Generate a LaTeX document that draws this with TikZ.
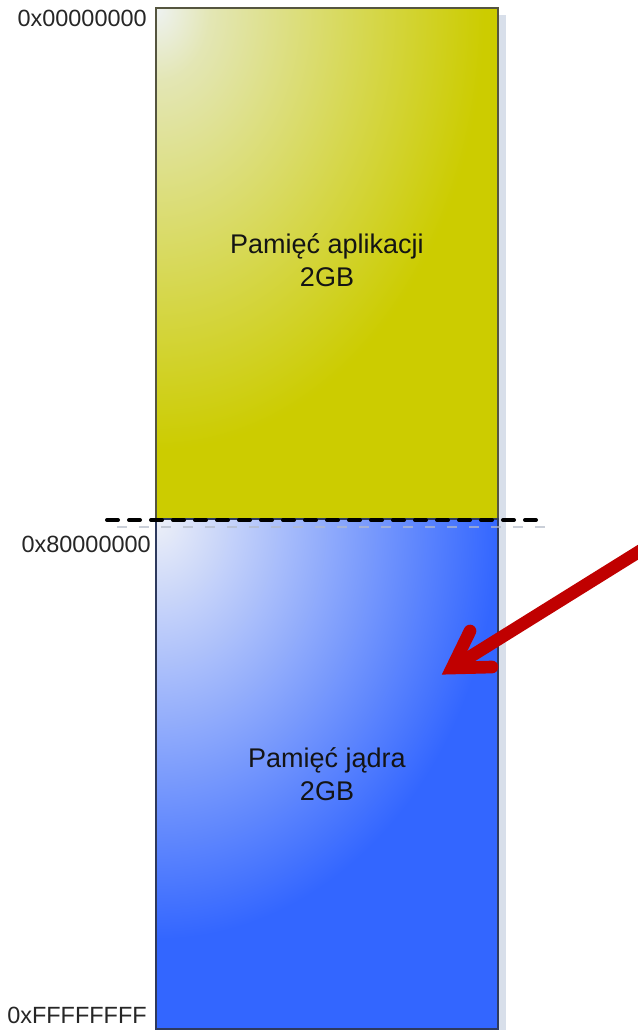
\documentclass[tikz,border=0pt]{standalone}
\usepackage{fontspec}
\setmainfont{Liberation Sans}
\usetikzlibrary{calc}

% palette
\definecolor{yelDeep}{HTML}{CCCC00}
\definecolor{yelPale}{HTML}{EEF2F2}
\definecolor{yelMid}{HTML}{E3E6B4}
\definecolor{bluDeep}{HTML}{3366FF}
\definecolor{bluPale}{HTML}{EDF0F8}
\definecolor{yelEdge}{HTML}{55553F}
\definecolor{bluEdge}{HTML}{2E3A5E}
\definecolor{shadowcol}{HTML}{D8DFEA}
\definecolor{dashshadow}{HTML}{B4BBC8}
\definecolor{arrowred}{HTML}{C00000}
\definecolor{labeltext}{HTML}{262626}
\definecolor{boxtext}{HTML}{141414}

% corner-anchored gradients (elliptic, scaled to the region)
\pgfdeclareradialshading{yelcorner}{\pgfpointorigin}{%
  color(0bp)=(yelPale); color(4bp)=(yelMid); color(24bp)=(yelDeep); color(50bp)=(yelDeep)}
\pgfdeclareradialshading{blucorner}{\pgfpointorigin}{%
  color(0bp)=(bluPale); color(25bp)=(bluDeep); color(50bp)=(bluDeep)}

\tikzset{
  addrlabel/.style={anchor=base east, inner sep=0pt, text=labeltext,
    font=\fontsize{17.6pt}{21pt}\selectfont},
  regiontext/.style={align=center, inner sep=0pt, text=boxtext,
    font=\fontsize{20.25pt}{25pt}\selectfont},
  splitline/.style={draw=black, line width=3pt, line cap=round,
    dash pattern=on 8.25pt off 8.25pt},
  splitshadow/.style={draw=dashshadow, line width=1.2pt, opacity=0.7,
    dash pattern=on 7.5pt off 9pt},
  redarrow/.style={draw=arrowred, line width=9.5pt},
}

\begin{document}
\begin{tikzpicture}[x=0.75pt, y=-0.75pt]
  \useasboundingbox (0,0) rectangle (637,1030);
  \fill[white] (0,0) rectangle (637,1030);

  % region corners
  \coordinate (ytl) at (156,8);
  \coordinate (ybr) at (498,519);
  \coordinate (btl) at (156,519);
  \coordinate (bbr) at (498,1029);

  % soft drop shadow behind the memory column
  \fill[shadowcol] (163,15) rectangle (506,1040);

  % user-space region
  \begin{scope}
    \clip (ytl) rectangle (ybr);
    \fill[yelDeep] (ytl) rectangle (ybr);
    \shade[shading=yelcorner] (156-342,8-460) rectangle (498,468);
  \end{scope}
  \draw[yelEdge, line width=1.6pt] (ytl) rectangle (ybr);

  % kernel-space region
  \begin{scope}
    \clip (btl) rectangle (bbr);
    \fill[bluDeep] (btl) rectangle (bbr);
    \shade[shading=blucorner] (156-342,519-420) rectangle (498,939);
  \end{scope}
  \draw[bluEdge, line width=1.6pt] (btl) rectangle (bbr);

  % 2GB split boundary
  \coordinate (splitL) at (107,520);
  \coordinate (splitR) at (545,520);
  \coordinate (shadowL) at (117,527);
  \coordinate (shadowR) at (555,527);
  \draw[splitshadow] (shadowL) -- (shadowR);
  \draw[splitline] (splitL) -- (splitR);

  % region captions
  \node[regiontext] (usertext) at (327,260) {Pamięć aplikacji\\2GB};
  \node[regiontext] (kerneltext) at (327,774) {Pamięć jądra\\2GB};

  % address labels
  \node[addrlabel] (addrlow) at (147,27) {0x00000000};
  \node[addrlabel] (addrmid) at (151,552) {0x80000000};
  \node[addrlabel] (addrhigh) at (147,1023) {0xFFFFFFFF};

  % pointer into kernel space
  \coordinate (arrowtail) at (648,546);
  \coordinate (arrowapex) at (452,668);
  \coordinate (barbA) at (470,631);
  \coordinate (barbB) at (492,667);
  \draw[redarrow] (arrowtail) -- (arrowapex);
  \draw[redarrow, line cap=round, line join=miter] (barbA) -- (arrowapex) -- (barbB);
\end{tikzpicture}
\end{document}
